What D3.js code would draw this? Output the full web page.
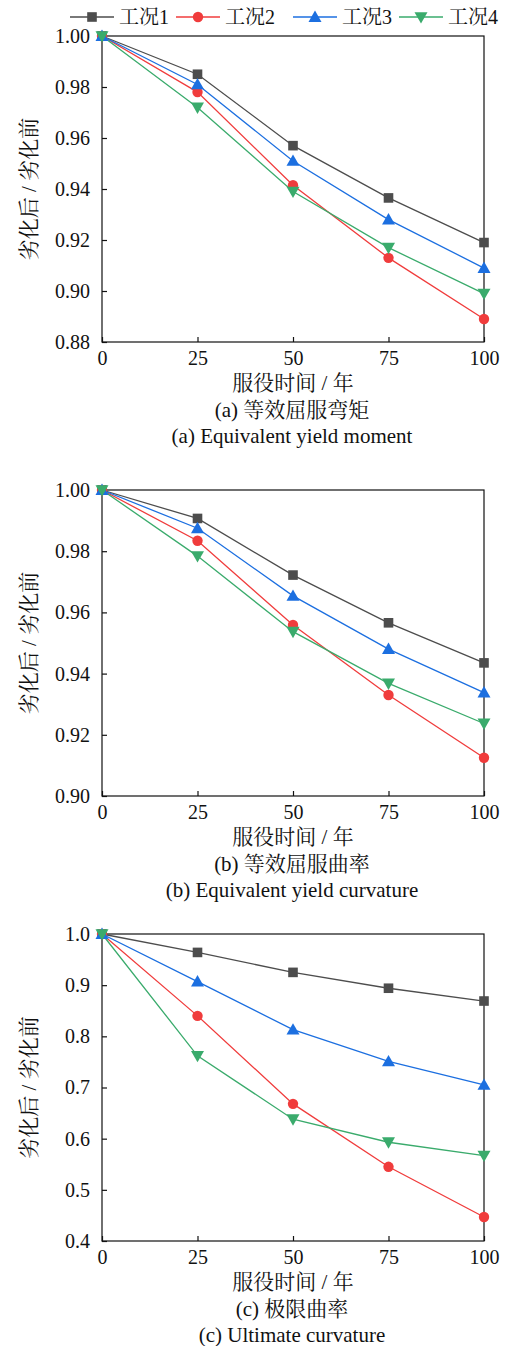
<!DOCTYPE html>
<html>
<head>
<meta charset="utf-8">
<script src="https://cdn.jsdelivr.net/npm/d3@7"></script>
<style>
  body { margin: 0; background: #fff; }
  text { font-family: "Liberation Serif", "Noto Serif CJK SC", "Noto Sans CJK SC", serif; fill: #111; }
</style>
</head>
<body>
<svg id="chart" width="506" height="1346"></svg>
<script>
// 服役时间
const years = [0, 25, 50, 75, 100];
const seriesNames = ['工况1', '工况2', '工况3', '工况4'];

// (a) 等效屈服弯矩
const momentS1 = [1.000, 0.985, 0.957, 0.9365, 0.919];
const momentS2 = [1.000, 0.978, 0.9415, 0.913, 0.889];
const momentS3 = [1.000, 0.981, 0.951, 0.928, 0.909];
const momentS4 = [1.000, 0.972, 0.939, 0.917, 0.899];

// (b) 等效屈服曲率
const curvS1 = [1.000, 0.9907, 0.9722, 0.9566, 0.9435];
const curvS2 = [1.000, 0.9834, 0.9559, 0.933, 0.9125];
const curvS3 = [1.000, 0.9875, 0.9654, 0.948, 0.9338];
const curvS4 = [1.000, 0.9784, 0.9537, 0.9368, 0.9237];

// (c) 极限曲率
const ultS1 = [1.000, 0.964, 0.925, 0.894, 0.869];
const ultS2 = [1.000, 0.840, 0.668, 0.545, 0.447];
const ultS3 = [1.000, 0.907, 0.813, 0.751, 0.705];
const ultS4 = [1.000, 0.762, 0.638, 0.593, 0.567];

const yTicksA = [0.88, 0.90, 0.92, 0.94, 0.96, 0.98, 1.00];
const yTicksB = [0.90, 0.92, 0.94, 0.96, 0.98, 1.00];
const yTicksC = [0.4, 0.5, 0.6, 0.7, 0.8, 0.9, 1.0];

const colors = ['#4d4d4d', '#f03c3c', '#1c6fe0', '#3aab6c'];
const markers = ['square', 'circle', 'up', 'down'];

let svg = d3.select('#chart');

// 画一个标记
function drawMarker(g, type, x, y, color) {
    if (type === 'square') {
        g.append('rect').attr('x', x - 4.8).attr('y', y - 4.8)
            .attr('width', 9.6).attr('height', 9.6).attr('fill', color);
    } else if (type === 'circle') {
        g.append('circle').attr('cx', x).attr('cy', y).attr('r', 5.2).attr('fill', color);
    } else {
        let s = 6.5, dir = type === 'up' ? 1 : -1;
        let pts = [[x, y - dir * s], [x - s, y + dir * s * 0.75], [x + s, y + dir * s * 0.75]];
        g.append('path').attr('d', 'M' + pts.map(p => p.join(',')).join('L') + 'Z').attr('fill', color);
    }
}

// 画一个子图
function drawPanel(cfg) {
    let left = 102, right = 484;
    let g = svg.append('g');
    let x = d3.scaleLinear().domain([0, 100]).range([left, right]);
    let y = d3.scaleLinear().domain(cfg.domain).range([cfg.bottom, cfg.top]);

    // 坐标框
    g.append('rect').attr('x', left).attr('y', cfg.top)
        .attr('width', right - left).attr('height', cfg.bottom - cfg.top)
        .attr('fill', 'none').attr('stroke', '#111').attr('stroke-width', 1.2);

    // x轴
    let xAxis = d3.axisBottom(x).tickValues(years).tickSizeInner(-5).tickSizeOuter(0).tickPadding(9);
    let xg = g.append('g').attr('transform', `translate(0,${cfg.bottom})`).call(xAxis);
    xg.select('.domain').remove();
    xg.selectAll('line').attr('stroke', '#111').attr('stroke-width', 1.2);
    xg.selectAll('text').style('font-size', '20px').attr('fill', '#111');

    // y轴
    let yAxis = d3.axisLeft(y).tickValues(cfg.ticks).tickFormat(d3.format(cfg.fmt))
        .tickSizeInner(-5).tickSizeOuter(0).tickPadding(12);
    let yg = g.append('g').attr('transform', `translate(${left},0)`).call(yAxis);
    yg.select('.domain').remove();
    yg.selectAll('line').attr('stroke', '#111').attr('stroke-width', 1.2);
    yg.selectAll('text').style('font-size', '20px').attr('fill', '#111');

    // 轴标题
    g.append('text').attr('x', (left + right) / 2).attr('y', cfg.bottom + 48)
        .attr('text-anchor', 'middle').style('font-size', '21px').text('服役时间 / 年');
    g.append('text')
        .attr('transform', `translate(36,${(cfg.top + cfg.bottom) / 2}) rotate(-90)`)
        .attr('text-anchor', 'middle').style('font-size', '21px').text('劣化后 / 劣化前');
    g.append('text').attr('x', (left + right) / 2 - 1).attr('y', cfg.bottom + 75)
        .attr('text-anchor', 'middle').style('font-size', '21px').text(cfg.titleCn);
    g.append('text').attr('x', (left + right) / 2 - 1).attr('y', cfg.bottom + 101)
        .attr('text-anchor', 'middle').style('font-size', '21px').text(cfg.titleEn);

    // 折线
    let line = d3.line().x((d, i) => x(years[i])).y(d => y(d));
    cfg.series.forEach((s, k) => {
        g.append('path').attr('d', line(s)).attr('fill', 'none')
            .attr('stroke', colors[k]).attr('stroke-width', 1.3);
    });
    cfg.series.forEach((s, k) => {
        let mg = g.append('g');
        s.forEach((v, i) => drawMarker(mg, markers[k], x(years[i]), y(v), colors[k]));
    });
}

drawPanel({
    top: 36, bottom: 342, domain: [0.88, 1.00], ticks: yTicksA, fmt: '.2f',
    series: [momentS1, momentS2, momentS3, momentS4],
    titleCn: '(a) 等效屈服弯矩', titleEn: '(a) Equivalent yield moment'
});
drawPanel({
    top: 490, bottom: 796, domain: [0.90, 1.00], ticks: yTicksB, fmt: '.2f',
    series: [curvS1, curvS2, curvS3, curvS4],
    titleCn: '(b) 等效屈服曲率', titleEn: '(b) Equivalent yield curvature'
});
drawPanel({
    top: 934, bottom: 1241, domain: [0.4, 1.0], ticks: yTicksC, fmt: '.1f',
    series: [ultS1, ultS2, ultS3, ultS4],
    titleCn: '(c) 极限曲率', titleEn: '(c) Ultimate curvature'
});

// 图例
let legendX = [70, 176, 293, 399];
let legend = svg.append('g');
seriesNames.forEach((name, k) => {
    let lx = legendX[k], ly = 17;
    legend.append('line').attr('x1', lx).attr('x2', lx + 44).attr('y1', ly).attr('y2', ly)
        .attr('stroke', colors[k]).attr('stroke-width', 1.3);
    drawMarker(legend, markers[k], lx + 22, ly, colors[k]);
    legend.append('text').attr('x', lx + 49).attr('y', ly + 7)
        .style('font-size', '20px').attr('fill', '#444').text(name);
});
</script>
</body>
</html>
